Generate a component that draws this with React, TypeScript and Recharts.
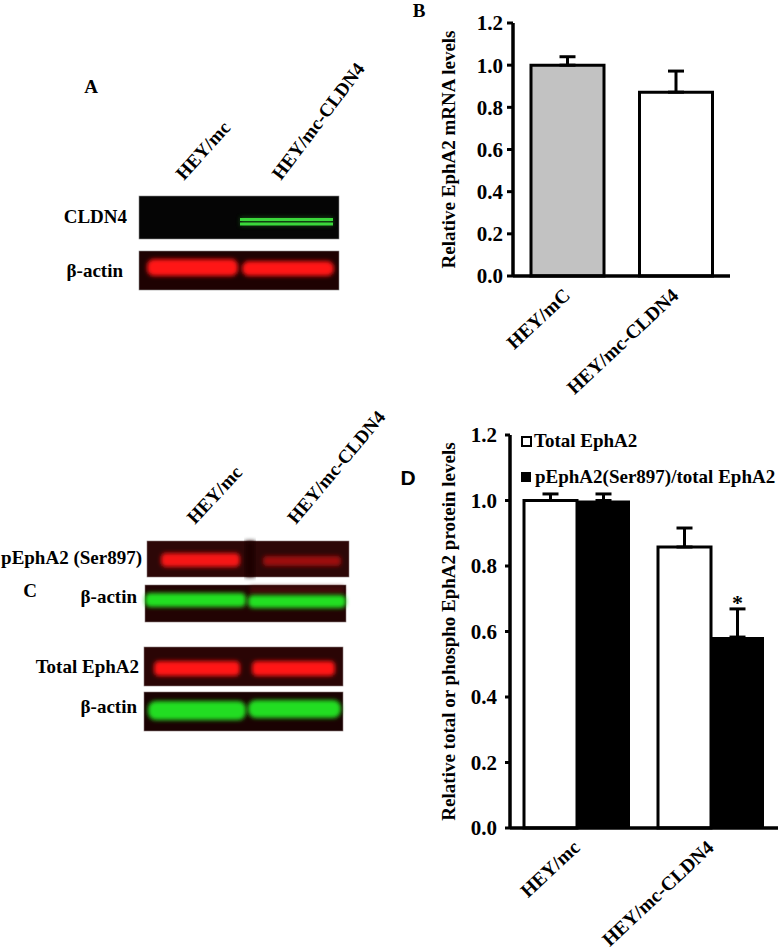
import { BarChart, Bar, XAxis, YAxis, ErrorBar, Cell, LabelList, Legend } from "recharts";

// Panel B: EphA2 mRNA
const mrnaGroups = ["HEY/mC", "HEY/mc-CLDN4"];
const mrnaLevels = [1.0, 0.872];
const mrnaErrors = [0.04, 0.1];
const mrnaFills = ["#c2c2c2", "#ffffff"];

// Panel D: EphA2 protein
const proteinGroups = ["HEY/mc", "HEY/mc-CLDN4"];
const totalEphA2 = [1.0, 0.858];
const totalEphA2Err = [0.02, 0.058];
const phosphoEphA2 = [1.0, 0.583];
const phosphoEphA2Err = [0.02, 0.086];
const significance = ["", "*"];
const seriesNames = ["Total EphA2", "pEphA2(Ser897)/total EphA2"];

const yTicks = [0, 0.2, 0.4, 0.6, 0.8, 1.0, 1.2];

const mrnaData = mrnaGroups.map((name, i) => ({
  name,
  level: mrnaLevels[i],
  err: [0, mrnaErrors[i]],
}));

const proteinData = proteinGroups.map((name, i) => ({
  name,
  total: totalEphA2[i],
  totalErr: [0, totalEphA2Err[i]],
  phospho: phosphoEphA2[i],
  phosphoErr: [0, phosphoEphA2Err[i]],
  sig: significance[i],
}));

const serif = '"Liberation Serif", "Times New Roman", serif';
const textStyle = { fill: "#000", fontSize: 19, fontWeight: "bold", fontFamily: serif };
const tickStyle = { ...textStyle, fontSize: 21 };
const axisLine = { stroke: "#000", strokeWidth: 3.5 };

function SlantTick({ x, y, payload }: any) {
  const ax = x + 4;
  const ay = y + 21;
  return (
    <text x={ax} y={ay} transform={`rotate(-43 ${ax} ${ay})`} textAnchor="end" {...textStyle} fontSize={19.5}>
      {payload.value}
    </text>
  );
}

function ProteinLegend({ payload }: any) {
  const icons = ["#ffffff", "#000000"];
  return (
    <div style={{ fontFamily: serif, fontWeight: "bold", fontSize: 19, color: "#000" }}>
      {(payload || []).map((p: any, i: number) => (
        <div key={i} style={{ height: 36, display: "flex", alignItems: "center", whiteSpace: "nowrap" }}>
          <span
            style={{
              display: "inline-block",
              width: i === 0 ? 7 : 10,
              height: i === 0 ? 7 : 10,
              background: icons[i],
              border: i === 0 ? "2px solid #000" : "none",
              marginRight: i === 0 ? 2 : 4,
            }}
          />
          {p.value}
        </div>
      ))}
    </div>
  );
}

function MrnaChart() {
  return (
    <BarChart width={378} height={420} data={mrnaData} margin={{ top: 23, right: 48, bottom: 44, left: 0 }}>
      <YAxis
        width={113}
        domain={[0, 1.2]}
        ticks={yTicks}
        tickFormatter={(v: number) => v.toFixed(1)}
        axisLine={axisLine}
        tickLine={{ stroke: "#000", strokeWidth: 3 }}
        tickSize={6}
        tickMargin={4}
        tick={tickStyle}
        label={{
          value: "Relative EphA2 mRNA levels",
          angle: -90,
          position: "insideLeft",
          offset: 48,
          style: { textAnchor: "middle" },
          ...textStyle,
        }}
      />
      <XAxis dataKey="name" height={100} axisLine={axisLine} tickLine={false} tickSize={0} tickMargin={0} tick={<SlantTick />} interval={0} />
      <Bar dataKey="level" barSize={73} stroke="#000" strokeWidth={3} isAnimationActive={false}>
        {mrnaData.map((_, i) => (
          <Cell key={i} fill={mrnaFills[i]} />
        ))}
        <ErrorBar dataKey="err" width={8} strokeWidth={3} stroke="#000" direction="y" />
      </Bar>
    </BarChart>
  );
}

function ProteinChart() {
  return (
    <BarChart
      width={378}
      height={532}
      data={proteinData}
      margin={{ top: 15, right: 0, bottom: 24, left: 0 }}
      barCategoryGap={14}
      barGap={0}
    >
      <YAxis
        width={110}
        domain={[0, 1.2]}
        ticks={yTicks}
        tickFormatter={(v: number) => v.toFixed(1)}
        axisLine={axisLine}
        tickLine={{ stroke: "#000", strokeWidth: 3 }}
        tickSize={5}
        tickMargin={8}
        tick={tickStyle}
        label={{
          value: "Relative total  or phospho EphA2 protein levels",
          angle: -90,
          position: "insideLeft",
          offset: 48,
          style: { textAnchor: "middle" },
          ...textStyle,
        }}
      />
      <XAxis dataKey="name" height={100} axisLine={axisLine} tickLine={false} tickSize={0} tickMargin={0} tick={<SlantTick />} interval={0} />
      <Legend
        layout="horizontal"
        verticalAlign="middle"
        align="center"
        content={<ProteinLegend />}
        wrapperStyle={{ position: "absolute", top: 3, left: 121, width: 257 }}
      />
      <Bar dataKey="total" name={seriesNames[0]} fill="#fff" stroke="#000" strokeWidth={3} isAnimationActive={false}>
        <ErrorBar dataKey="totalErr" width={8} strokeWidth={3} stroke="#000" direction="y" />
      </Bar>
      <Bar dataKey="phospho" name={seriesNames[1]} fill="#000" isAnimationActive={false}>
        <ErrorBar dataKey="phosphoErr" width={8} strokeWidth={3} stroke="#000" direction="y" />
        <LabelList dataKey="sig" position="top" offset={27} {...textStyle} fontSize={22} />
      </Bar>
    </BarChart>
  );
}

// Western blot images (panels A and C), drawn as plain shapes
function Blots() {
  const lbl = { fill: "#000", fontSize: 19, fontWeight: "bold" as const, fontFamily: serif };
  return (
    <svg width={778} height={952} style={{ position: "absolute", left: 0, top: 0 }}>
      <defs>
        <filter id="soft" x="-10%" y="-60%" width="120%" height="220%">
          <feGaussianBlur stdDeviation="2" />
        </filter>
        <filter id="thin" x="-10%" y="-100%" width="120%" height="300%">
          <feGaussianBlur stdDeviation="0.7" />
        </filter>
      </defs>

      {/* panel letters */}
      <text x={91} y={93} textAnchor="middle" {...lbl}>A</text>
      <text x={419} y={17} textAnchor="middle" {...lbl}>B</text>
      <text x={30} y={597} textAnchor="middle" {...lbl}>C</text>
      <text x={408} y={485} textAnchor="middle" fill="#000" fontSize={21} fontWeight="bold" fontFamily='"Liberation Sans", Arial, sans-serif'>D</text>

      {/* panel A lane labels */}
      <text x={184} y={181} transform="rotate(-48 184 181)" {...lbl}>HEY/mc</text>
      <text x={281} y={181} transform="rotate(-53 281 181)" {...lbl}>HEY/mc-CLDN4</text>

      {/* panel A blots */}
      <text x={127} y={223} textAnchor="end" {...lbl}>CLDN4</text>
      <rect x={139} y={196} width={200} height={43} fill="#050505" stroke="#8a8a8a" strokeWidth={0.6} />
      <rect x={240} y={217} width={93} height={9} fill="#1f6a1f" filter="url(#soft)" opacity={0.6} />
      <rect x={240} y={218} width={93} height={3} fill="#3bd83b" filter="url(#thin)" />
      <rect x={240} y={222.5} width={93} height={3} fill="#3bd83b" filter="url(#thin)" />
      <text x={123} y={277} textAnchor="end" {...lbl}>β-actin</text>
      <rect x={139} y={251} width={200} height={39} fill="#1e0202" stroke="#8a8a8a" strokeWidth={0.6} />
      <rect x={147} y={259} width={91} height={17} rx={7} fill="#ff1414" filter="url(#soft)" />
      <rect x={242} y={261} width={92} height={15} rx={7} fill="#ff1414" filter="url(#soft)" />

      {/* panel C lane labels */}
      <text x={195} y={525} transform="rotate(-47 195 525)" {...lbl}>HEY/mc</text>
      <text x={296} y={525} transform="rotate(-50 296 525)" {...lbl}>HEY/mc-CLDN4</text>

      {/* panel C blots */}
      <text x={142} y={564} textAnchor="end" {...lbl}>pEphA2 (Ser897)</text>
      <rect x={147} y={541} width={202} height={36} fill="#2d0707" stroke="#8a7a7a" strokeWidth={0.6} />
      <rect x={245} y={541} width={10} height={36} fill="#1a0202" filter="url(#soft)" />
      <rect x={161} y={553} width={79} height={14} rx={5} fill="#f51515" filter="url(#soft)" />
      <rect x={263} y={556} width={78} height={10} rx={4} fill="#9c1010" filter="url(#soft)" />

      <text x={137} y={603} textAnchor="end" {...lbl}>β-actin</text>
      <rect x={145} y={585} width={201} height={37} fill="#220303" stroke="#8a7a7a" strokeWidth={0.6} />
      <rect x={250} y={586} width={94} height={8} fill="#5a1010" filter="url(#soft)" opacity={0.6} />
      <rect x={145} y={593} width={101} height={14} rx={5} fill="#24e024" filter="url(#soft)" />
      <rect x={248} y={595} width={98} height={13} rx={5} fill="#24e024" filter="url(#soft)" />

      <text x={139} y={673} textAnchor="end" {...lbl}>Total EphA2</text>
      <rect x={144} y={647} width={199} height={39} fill="#2a0505" stroke="#8a7a7a" strokeWidth={0.6} />
      <rect x={154} y={661} width={86} height={15} rx={5} fill="#ff1818" filter="url(#soft)" />
      <rect x={252} y={661} width={83} height={15} rx={5} fill="#ff1818" filter="url(#soft)" />

      <text x={137} y={713} textAnchor="end" {...lbl}>β-actin</text>
      <rect x={144} y={692} width={199} height={39} fill="#1a0202" stroke="#8a7a7a" strokeWidth={0.6} />
      <rect x={148} y={701} width={98} height={19} rx={8} fill="#22dd22" filter="url(#soft)" />
      <rect x={248} y={700} width={93} height={18} rx={8} fill="#22dd22" filter="url(#soft)" />
    </svg>
  );
}

export default function App() {
  return (
    <div style={{ position: "absolute", left: 0, top: 0, width: 778, height: 952, background: "#fff", overflow: "hidden" }}>
      <Blots />
      <div style={{ position: "absolute", left: 400, top: 0 }}>
        <MrnaChart />
      </div>
      <div style={{ position: "absolute", left: 400, top: 420 }}>
        <ProteinChart />
      </div>
    </div>
  );
}
